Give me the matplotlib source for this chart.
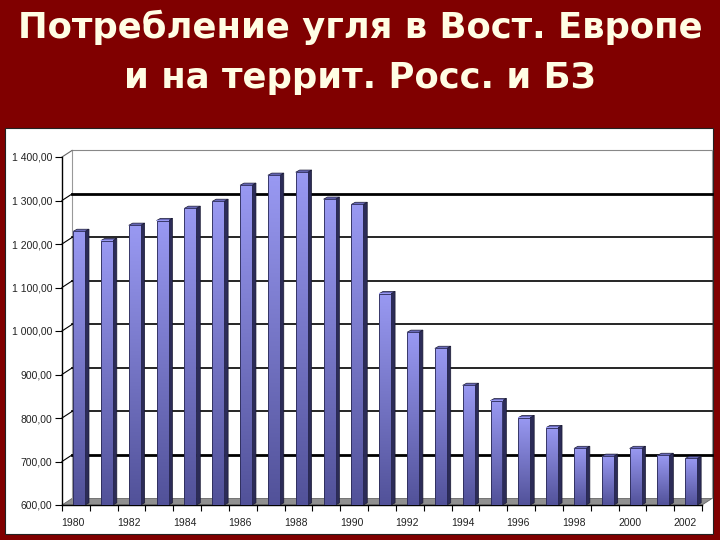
import numpy as np
import matplotlib
matplotlib.use("Agg")
import matplotlib.pyplot as plt
from matplotlib.patches import Polygon, Rectangle

# Данные
years = list(range(1980, 2003))
values = [1229, 1208, 1243, 1254, 1282, 1298, 1335, 1358, 1365, 1303, 1291,
          1086, 997, 960, 875, 840, 801, 778, 730, 712, 730, 714, 707]
y_ticks = [600, 700, 800, 900, 1000, 1100, 1200, 1300, 1400]
title_lines = ["Потребление угля в Вост. Европе", "и на террит. Росс. и БЗ"]

BG = '#800000'
TITLE_COLOR = '#fffde4'
FRONT_TOP = np.array([0.60, 0.60, 0.95])
FRONT_BOT = np.array([0.32, 0.32, 0.60])
SIDE = '#2c2c58'
TOP = '#6a6abc'

# глубина "3D" в единицах данных
ddx, ddy = 0.36, 15     # стенка
bdx, bdy = 0.14, 5      # столбик
bar_off, bar_w = 0.40, 0.43

fig = plt.figure(figsize=(7.2, 5.4), dpi=100, facecolor=BG)

# белая подложка
fig.patches.append(Rectangle((5/720, 6/540), 708/720, 406/540, transform=fig.transFigure,
                             facecolor='white', edgecolor='#222222', linewidth=0.8, zorder=-10))

fig.text(0.5, 1 - 38/540, title_lines[0], ha='center', va='baseline', fontsize=25.5,
         fontweight='bold', color=TITLE_COLOR, family='DejaVu Sans')
fig.text(0.5, 1 - 88/540, title_lines[1], ha='center', va='baseline', fontsize=25.5,
         fontweight='bold', color=TITLE_COLOR, family='DejaVu Sans')

ax = fig.add_axes([62/720, 35/540, 640/720, 348/540])
ax.set_facecolor('none')
n = len(years)
for s in ['top', 'right']:
    ax.spines[s].set_visible(False)
ax.spines['left'].set_linewidth(1.0)
ax.spines['bottom'].set_linewidth(1.0)

# пол
ax.add_patch(Polygon([(0, 600), (n, 600), (n + ddx, 600 + ddy), (ddx, 600 + ddy)],
                     closed=True, facecolor='#909090', edgecolor='#666666', linewidth=0.6,
                     clip_on=False, zorder=1))

# задняя стенка: края
ax.plot([ddx, n + ddx], [1400 + ddy, 1400 + ddy], color='#888888', lw=0.8, clip_on=False, zorder=1)
ax.plot([ddx, ddx], [600 + ddy, 1400 + ddy], color='#999999', lw=0.8, clip_on=False, zorder=1)
ax.plot([n + ddx, n + ddx], [600 + ddy, 1400 + ddy], color='#999999', lw=0.8, clip_on=False, zorder=1)
ax.plot([0, ddx], [1400, 1400 + ddy], color='#666666', lw=0.8, clip_on=False, zorder=1)

# линии сетки
for v in y_ticks[1:-1]:
    lw = 2.0 if v in (700, 1300) else 1.2
    ax.plot([ddx, n + ddx], [v + ddy, v + ddy], color='black', lw=lw, clip_on=False, zorder=2)
    ax.plot([0, ddx], [v, v + ddy], color='black', lw=0.8, clip_on=False, zorder=2)

# столбики
grad = np.linspace(0, 1, 100)[:, None]
for i, v in enumerate(values):
    x0 = i + bar_off
    x1 = x0 + bar_w
    ax.add_patch(Polygon([(x1, 600), (x1 + bdx, 600 + bdy), (x1 + bdx, v + bdy), (x1, v)],
                         closed=True, facecolor=SIDE, edgecolor='#1a1a33', linewidth=0.5, zorder=3))
    ax.add_patch(Polygon([(x0, v), (x1, v), (x1 + bdx, v + bdy), (x0 + bdx, v + bdy)],
                         closed=True, facecolor=TOP, edgecolor='#1a1a33', linewidth=0.5, zorder=3))
    colors = FRONT_BOT[None, None, :] + (FRONT_TOP - FRONT_BOT)[None, None, :] * grad[::-1, :, None]
    ax.imshow(colors, extent=(x0, x1, 600, v), aspect='auto', interpolation='bilinear',
              origin='upper', zorder=4)
    ax.add_patch(Rectangle((x0, 600), bar_w, v - 600, facecolor='none',
                           edgecolor='#2a2a55', linewidth=0.6, zorder=5))

ax.set_xlim(0, n)
ax.set_ylim(600, 1400)

ax.set_yticks(y_ticks)
ax.set_yticklabels([f"{v:,}".replace(',', ' ') + ",00" for v in y_ticks],
                   fontsize=7.5, color='#222222', family='Liberation Sans')
ax.tick_params(axis='y', length=5, width=0.8, pad=2)

ax.set_xticks(range(0, n + 1))
ax.set_xticklabels([])
ax.tick_params(axis='x', which='major', length=4, width=0.8)
even = [i for i, yr in enumerate(years) if yr % 2 == 0]
ax.set_xticks([i + 0.4 for i in even], minor=True)
ax.set_xticklabels([str(years[i]) for i in even], minor=True, fontsize=7.5,
                   color='#222222', family='Liberation Sans')
ax.tick_params(axis='x', which='minor', length=0, pad=9)

fig.savefig('out.png', dpi=100, facecolor=BG)
